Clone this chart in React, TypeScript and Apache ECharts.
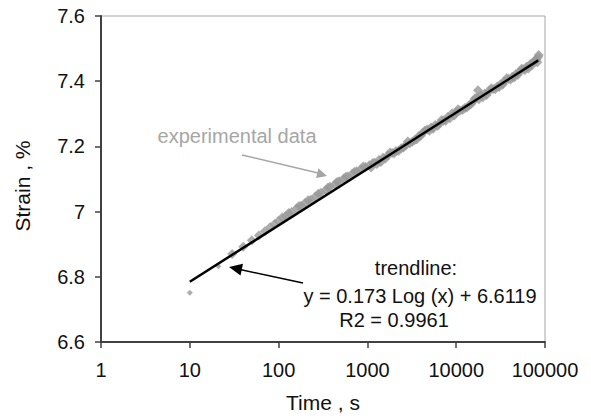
import React, { useEffect, useRef } from "react";
import * as echarts from "echarts";

// Experimental data (time in s, strain in %)
const expTime = [
  10, 21, 30, 40, 50, 60, 70, 80, 90, 100, 110, 120, 130, 140, 160, 170, 180, 200, 215, 230,
  260, 280, 300, 340, 360, 380, 430, 455, 480, 540, 570, 600, 680, 720, 760, 850, 900, 950,
  1050, 1100, 1150, 1200, 1280, 1350, 1420, 1500, 1600, 1700, 1800, 1900, 2000, 2100, 2250,
  2400, 2550, 2700, 2850, 3000, 3200, 3400, 3600, 3800, 4000, 4200, 4450, 4700, 5000, 5200,
  5500, 5800, 6200, 6500, 6850, 7200, 7600, 8000, 8500, 9000, 9500, 10000, 10500, 11000,
  11800, 12500, 13200, 14000, 14800, 15500, 16200, 17000, 17600, 18000, 19000, 20000, 21000,
  22000, 23500, 24700, 26000, 27500, 29000, 30500, 32000, 33500, 35000, 37000, 39000, 41000,
  43000, 45000, 47000, 49500, 52000, 54500, 57000, 59500, 62000, 65000, 68000, 71000, 74000,
  77000, 80000, 82000, 84000, 85000,
];
const expStrain = [
  6.751, 6.832, 6.87, 6.892, 6.912, 6.927, 6.94, 6.952, 6.962, 6.972, 6.982, 6.986, 6.996, 6.999,
  7.01, 7.017, 7.018, 7.027, 7.035, 7.036, 7.046, 7.055, 7.058, 7.066, 7.074, 7.076, 7.084,
  7.091, 7.093, 7.101, 7.107, 7.108, 7.117, 7.122, 7.124, 7.131, 7.138, 7.137,
  7.142, 7.135, 7.149, 7.15, 7.146, 7.158, 7.152, 7.165, 7.163, 7.172, 7.181, 7.18, 7.179,
  7.186, 7.187, 7.194, 7.197, 7.203, 7.215, 7.21, 7.214, 7.22, 7.222, 7.232, 7.233, 7.242,
  7.249, 7.252, 7.248, 7.258, 7.254, 7.266, 7.263, 7.27, 7.281, 7.279, 7.279, 7.29, 7.286,
  7.302, 7.295, 7.304, 7.314, 7.309, 7.312, 7.318, 7.319, 7.326, 7.331, 7.338, 7.347, 7.35,
  7.372, 7.345, 7.356, 7.351, 7.362, 7.358, 7.37, 7.378, 7.376, 7.375, 7.384, 7.382, 7.392,
  7.39, 7.399, 7.409, 7.407, 7.405, 7.414, 7.411, 7.422, 7.42, 7.43, 7.438, 7.437, 7.434,
  7.444, 7.439, 7.452, 7.448, 7.459, 7.464, 7.466, 7.458, 7.474, 7.48,
];

// Trendline y = 0.173 Log(x) + 6.6119, endpoints
const trendTime = [10, 84000];
const trendStrain = [6.7849, 7.4638];

const xTicks = [1, 10, 100, 1000, 10000, 100000];
const yTicks = [6.6, 6.8, 7, 7.2, 7.4, 7.6];

const xTitle = "Time , s";
const yTitle = "Strain , %";
const annotationLines = ["trendline:", "y = 0.173 Log (x) + 6.6119", "R2 = 0.9961"];
const dataLabel = "experimental data";

const FONT = "'Liberation Sans', Arial, sans-serif";

export default function App() {
  const ref = useRef<HTMLDivElement>(null);

  useEffect(() => {
    document.body.style.margin = "0";
    if (!ref.current) return;
    const chart = echarts.init(ref.current, undefined, { renderer: "svg" });

    const expData = expTime.map((t, i) => [t, expStrain[i]]);
    const trendData = trendTime.map((t, i) => [t, trendStrain[i]]);

    const textStyle = (fill: string) => ({
      fontFamily: FONT,
      fontSize: 20,
      fill,
      align: "center",
      verticalAlign: "middle",
    });

    const option: any = {
      animation: false,
      backgroundColor: "#ffffff",
      grid: {
        left: 101,
        right: 46,
        top: 16,
        bottom: 77,
        show: true,
        borderColor: "#a6a6a6",
        borderWidth: 1,
      },
      xAxis: {
        type: "log",
        logBase: 10,
        min: xTicks[0],
        max: xTicks[xTicks.length - 1],
        name: xTitle,
        nameLocation: "middle",
        nameGap: 50,
        nameTextStyle: { fontFamily: FONT, fontSize: 21, color: "#111" },
        axisLine: { show: true, lineStyle: { color: "#404040", width: 2 } },
        axisTick: { show: true, inside: false, length: 6, lineStyle: { color: "#404040", width: 1.5 } },
        axisLabel: {
          margin: 18,
          fontFamily: FONT,
          fontSize: 20,
          color: "#111",
          formatter: (v: number) => String(Math.round(v)),
        },
        splitLine: { show: false },
        minorTick: { show: false },
      },
      yAxis: {
        type: "value",
        min: yTicks[0],
        max: yTicks[yTicks.length - 1],
        interval: 0.2,
        axisLine: { show: true, lineStyle: { color: "#404040", width: 2 } },
        axisTick: { show: true, inside: false, length: 6, lineStyle: { color: "#404040", width: 1.5 } },
        axisLabel: {
          margin: 16,
          fontFamily: FONT,
          fontSize: 20,
          color: "#111",
          formatter: (v: number) => {
            const r = Math.round(v * 10) / 10;
            return Number.isInteger(r) ? String(r) : r.toFixed(1);
          },
        },
        splitLine: { show: false },
      },
      series: [
        {
          name: "experimental data",
          type: "scatter",
          data: expData,
          symbol: "diamond",
          symbolSize: (val: number[]) => (val[0] < 25 ? 6 : 10),
          itemStyle: { color: "#999999" },
          z: 2,
        },
        {
          name: "trendline",
          type: "line",
          data: trendData,
          showSymbol: false,
          symbol: "none",
          lineStyle: { color: "#000000", width: 2.5 },
          z: 3,
        },
      ],
      graphic: [
        {
          type: "text",
          x: 22,
          y: 186,
          rotation: Math.PI / 2,
          style: { ...textStyle("#111"), text: yTitle, fontSize: 21 },
        },
        {
          type: "text",
          x: 237,
          y: 136,
          style: { ...textStyle("#a6a6a6"), text: dataLabel },
        },
        {
          type: "line",
          shape: { x1: 242, y1: 155, x2: 318, y2: 173 },
          style: { stroke: "#a6a6a6", lineWidth: 1.5 },
        },
        {
          type: "polygon",
          shape: { points: [[327, 176], [318.4, 168.3], [316.1, 178.1]] },
          style: { fill: "#a6a6a6" },
        },
        {
          type: "line",
          shape: { x1: 303, y1: 283, x2: 240, y2: 269.5 },
          style: { stroke: "#000", lineWidth: 1.5 },
        },
        {
          type: "polygon",
          shape: { points: [[229, 267], [240.5, 275.4], [243, 263.7]] },
          style: { fill: "#000" },
        },
        { type: "text", x: 416, y: 268, style: { ...textStyle("#111"), text: annotationLines[0] } },
        { type: "text", x: 420, y: 296, style: { ...textStyle("#111"), text: annotationLines[1] } },
        { type: "text", x: 394, y: 320, style: { ...textStyle("#111"), text: annotationLines[2] } },
      ],
    };

    chart.setOption(option);
    return () => chart.dispose();
  }, []);

  return <div ref={ref} style={{ width: 591, height: 419 }} />;
}
